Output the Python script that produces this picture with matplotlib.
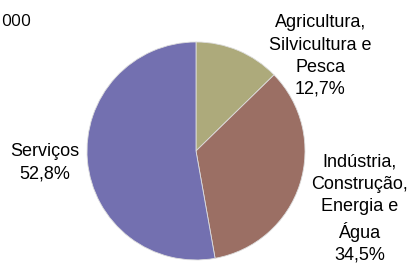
import matplotlib.pyplot as plt

# dados do gráfico
setores = ['Agricultura,\nSilvicultura e\nPesca', 'Indústria,\nConstrução,\nEnergia e\nÁgua', 'Serviços']
valores = [12.7, 34.5, 52.8]
cores = ['#ADAA7B', '#9B6F64', '#7370B0']
rotulos_pos = [(1.14, 0.87), (1.50, -0.53), (-1.385, -0.11)]

plt.rcParams['font.family'] = ['Liberation Sans', 'DejaVu Sans']

fig = plt.figure(figsize=(4.1, 2.64), dpi=100)
ax = fig.add_axes([0.2122, 0.0152, 0.5317, 0.8258])

ax.pie(valores, colors=cores, startangle=90, counterclock=False, radius=1,
       wedgeprops={'edgecolor': '#dddddd', 'linewidth': 0.6})
ax.set_xlim(-1, 1)
ax.set_ylim(-1, 1)
ax.set_aspect('equal')

for nome, v, (x, y) in zip(setores, valores, rotulos_pos):
    txt = nome + '\n' + ('%.1f%%' % v).replace('.', ',')
    ax.text(x, y, txt, ha='center', va='center', fontsize=13,
            linespacing=1.4, clip_on=False)

fig.text(1/410, 1-22/264, '000', ha='left', va='center', fontsize=12.5,
         family='Open Sans')

fig.savefig('out.png', dpi=100)
